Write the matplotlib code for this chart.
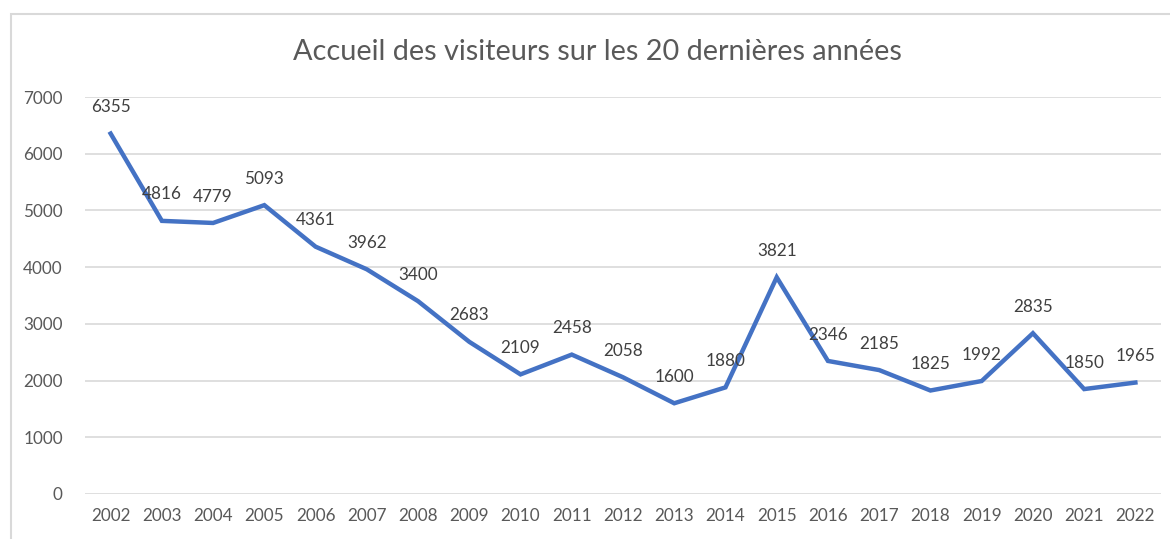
import matplotlib.pyplot as plt
from matplotlib.patches import Rectangle

# Data
years = [str(y) for y in range(2002, 2023)]
visitors = [6355, 4816, 4779, 5093, 4361, 3962, 3400, 2683, 2109, 2458, 2058,
            1600, 1880, 3821, 2346, 2185, 1825, 1992, 2835, 1850, 1965]

plt.rcParams['font.family'] = ['Lato', 'DejaVu Sans']
txt_color = '#595959'

fig = plt.figure(figsize=(11.7, 5.39), dpi=100)
ax = fig.add_axes([85 / 1170, 1 - 494 / 539, (1161 - 85) / 1170, (494 - 97) / 539])

x = list(range(len(years)))
ax.plot(x, visitors, color='#4472C4', linewidth=3.2, solid_joinstyle='miter')

# data labels above each point
for xi, v in zip(x, visitors):
    ax.annotate(str(v), (xi, v), xytext=(0, 19), textcoords='offset points',
                ha='center', va='center', fontsize=12.3, color='#404040')

ax.set_xlim(-0.5, len(years) - 0.5)
ax.set_ylim(0, 7000)
ax.set_yticks(range(0, 7001, 1000))
ax.set_xticks(x)
ax.set_xticklabels(years)
ax.tick_params(axis='both', length=0, labelsize=12.3, labelcolor=txt_color)
ax.tick_params(axis='y', pad=16)
ax.tick_params(axis='x', pad=10)
ax.grid(axis='y', color='#d9d9d9', linewidth=1.2)
ax.set_axisbelow(True)
for s in ax.spines.values():
    s.set_visible(False)

fig.text(0.511, 1 - 52 / 539, 'Accueil des visiteurs sur les 20 dernières années',
         ha='center', va='center', fontsize=20.8, color=txt_color)

# chart area border
fig.patches.append(Rectangle((11 / 1170, -0.05), 1.2, 1 - 14 / 539 + 0.05,
                             transform=fig.transFigure, fill=False,
                             edgecolor='#d9d9d9', linewidth=1.5))

fig.savefig('out.png', dpi=100)
